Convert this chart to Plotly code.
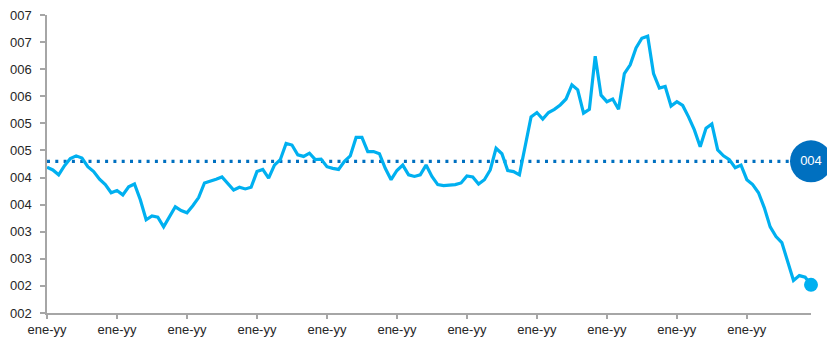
import plotly.graph_objects as go

# monthly series (index 0..131)
values = [
    4.19, 4.14, 4.05, 4.22, 4.35, 4.40, 4.36, 4.20, 4.11, 3.97, 3.87, 3.72,
    3.76, 3.68, 3.83, 3.88, 3.59, 3.22, 3.29, 3.27, 3.09, 3.28, 3.46, 3.39,
    3.35, 3.48, 3.63, 3.90, 3.93, 3.97, 4.01, 3.88, 3.77, 3.82, 3.79, 3.82,
    4.11, 4.15, 3.99, 4.23, 4.33, 4.63, 4.60, 4.42, 4.39, 4.45, 4.33, 4.34,
    4.20, 4.17, 4.15, 4.30, 4.40, 4.74, 4.74, 4.48, 4.48, 4.44, 4.17, 3.96,
    4.13, 4.23, 4.05, 4.02, 4.05, 4.23, 4.02, 3.87, 3.85, 3.86, 3.87, 3.90,
    4.03, 4.01, 3.88, 3.96, 4.14, 4.54, 4.44, 4.13, 4.11, 4.05, 4.58, 5.12,
    5.20, 5.08, 5.20, 5.26, 5.34, 5.45, 5.71, 5.62, 5.19, 5.26, 6.24, 5.52,
    5.40, 5.45, 5.26, 5.92, 6.08, 6.39, 6.57, 6.61, 5.92, 5.65, 5.68, 5.32,
    5.40, 5.33, 5.12, 4.88, 4.57, 4.91, 4.99, 4.51, 4.40, 4.33, 4.18, 4.23,
    3.96, 3.87, 3.72, 3.44, 3.09, 2.91, 2.80, 2.43, 2.10, 2.19, 2.16, 2.02,
]
months = list(range(len(values)))
average = 4.3
average_label = "004"

x_tick_vals = list(range(0, 121, 12))
x_tick_text = ["ene-yy"] * len(x_tick_vals)
y_tick_vals = [1.5, 2.0, 2.5, 3.0, 3.5, 4.0, 4.5, 5.0, 5.5, 6.0, 6.5, 7.0]
y_tick_text = ["002", "002", "003", "003", "004", "004",
               "005", "005", "006", "006", "007", "007"]

LIGHT = "#00B0F0"
DARK = "#0070C0"
AXIS = "#A6A6A6"
FONT = "Liberation Sans, Arial, sans-serif"

fig = go.Figure()

# average dotted line
fig.add_trace(go.Scatter(
    x=months, y=[average] * len(months), mode="lines",
    line=dict(color=DARK, width=3.2, dash="3px,5.3px"),
    hoverinfo="skip", cliponaxis=False,
))
# main series
fig.add_trace(go.Scatter(
    x=months, y=values, mode="lines",
    line=dict(color=LIGHT, width=3.2),
    cliponaxis=False,
))
# last-point marker
fig.add_trace(go.Scatter(
    x=[months[-1]], y=[values[-1]], mode="markers",
    marker=dict(color=LIGHT, size=14, line=dict(width=0)),
    cliponaxis=False,
))
# average label bubble
fig.add_trace(go.Scatter(
    x=[months[-1]], y=[average], mode="markers+text",
    marker=dict(color=DARK, size=42, line=dict(width=0)),
    text=[average_label], textposition="middle center",
    textfont=dict(color="white", size=13, family=FONT),
    cliponaxis=False,
))

fig.update_layout(
    width=827, height=341,
    margin=dict(l=47, r=16, t=15, b=28),
    paper_bgcolor="white", plot_bgcolor="white",
    showlegend=False,
    font=dict(family=FONT, size=13, color="#262626"),
    xaxis=dict(
        range=[0, months[-1]], tickmode="array",
        tickvals=x_tick_vals, ticktext=x_tick_text,
        showgrid=False, zeroline=False, automargin=False,
        showline=True, linecolor=AXIS, linewidth=1.5,
        ticks="outside", ticklen=4, tickwidth=1.5, tickcolor=AXIS,
        tickfont=dict(size=13, color="#262626"),
    ),
    yaxis=dict(
        range=[1.5, 7.0], tickmode="array",
        tickvals=y_tick_vals, ticktext=y_tick_text,
        showgrid=False, zeroline=False, automargin=False,
        showline=True, linecolor=AXIS, linewidth=1.5,
        ticks="outside", ticklen=5, tickwidth=1.5, tickcolor=AXIS,
        tickfont=dict(size=13, color="#262626"),
        ticklabelstandoff=6,
    ),
)

fig.write_html("out.html")
